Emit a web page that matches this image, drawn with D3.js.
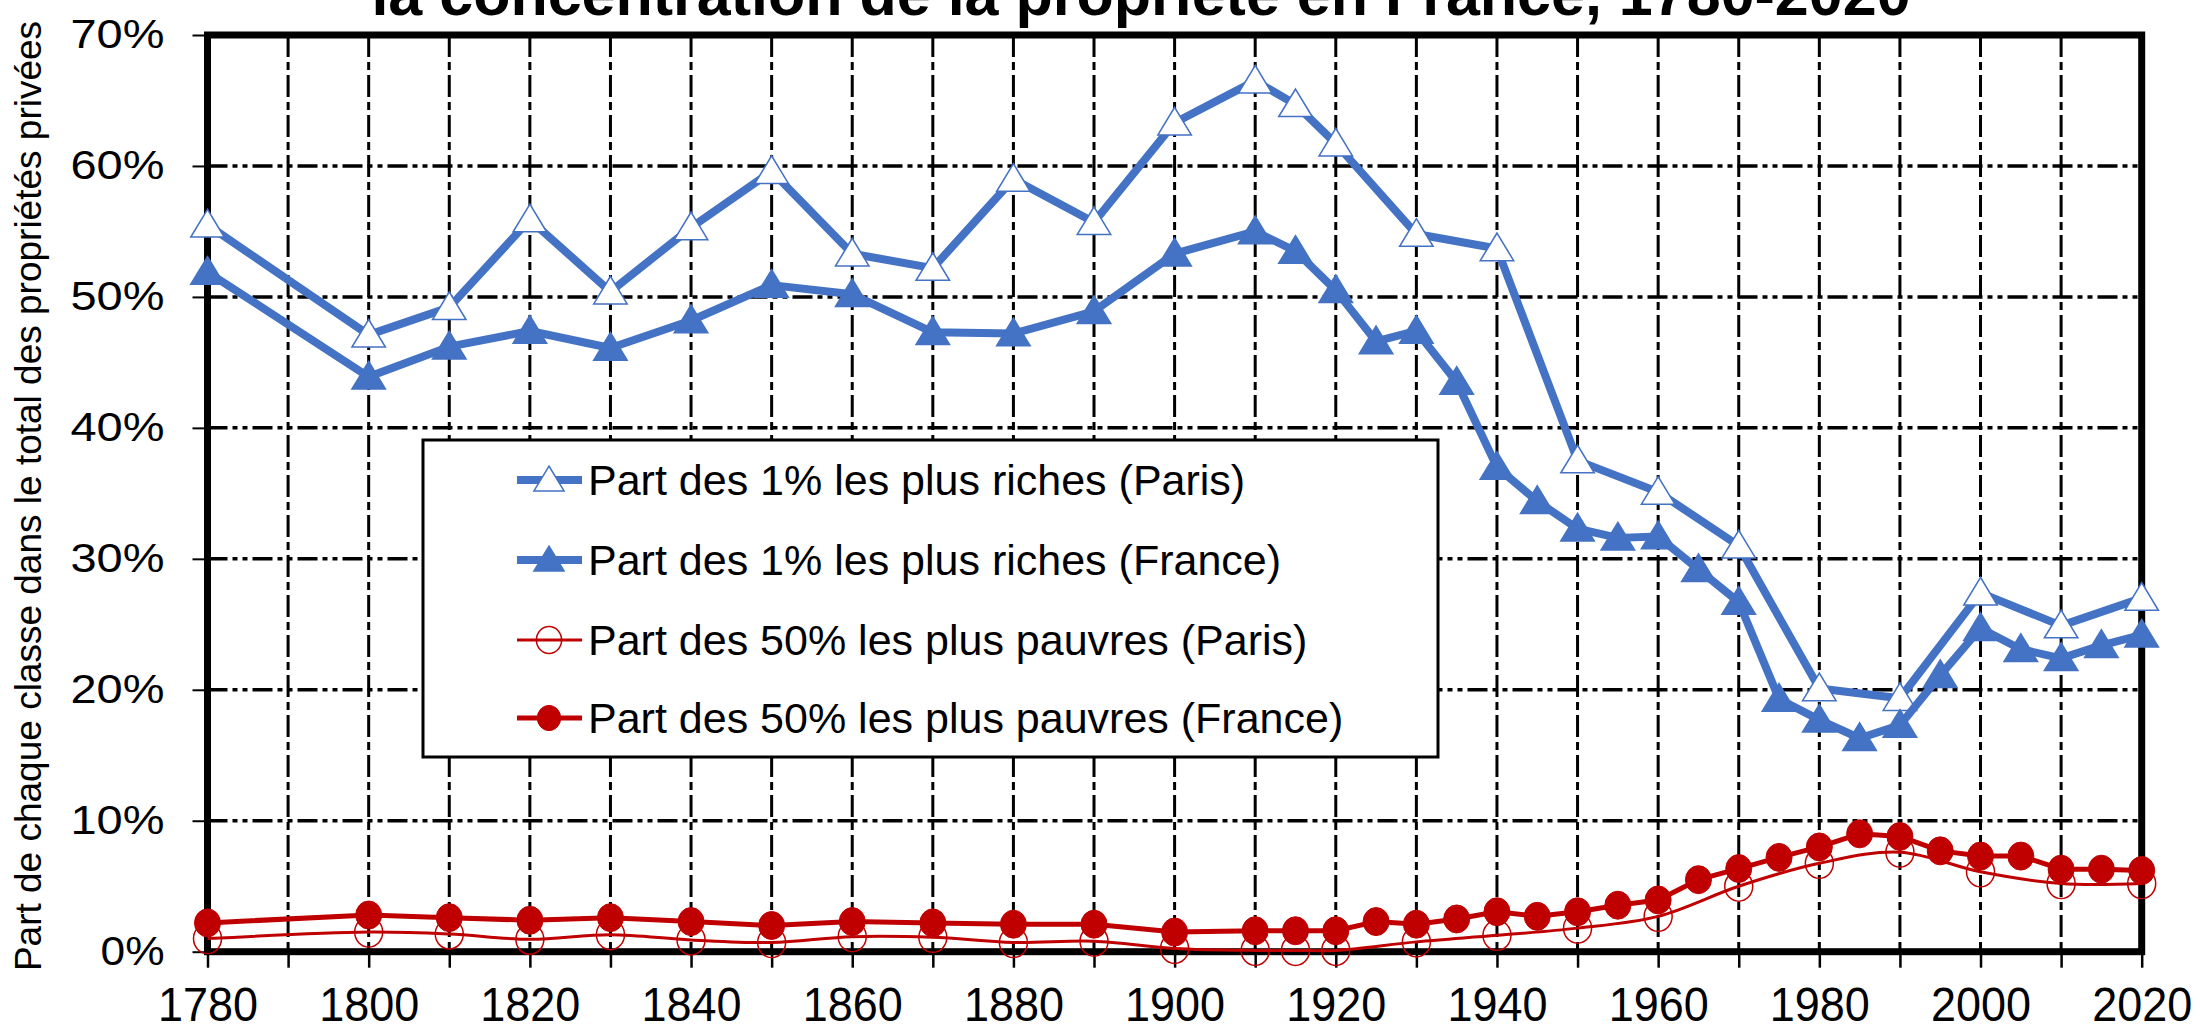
<!DOCTYPE html>
<html>
	<head>
		<meta charset="utf-8">
		<title>Concentration de la propriété</title>
		<script type="text/javascript" src="https://cdn.jsdelivr.net/npm/d3@7/dist/d3.min.js"></script>
		<style type="text/css">
			body{ margin: 0; background: #fff; }
			svg{ display: block; font-family: "Liberation Sans", Arial, sans-serif; }
			.axis path{ display: none; }
			.axis line{ stroke: #000; }
			.axis text{ fill: #000; }
		</style>
	</head>
	<body>
	<script type="text/javascript">
		const width = 2200, height = 1030;

		// years of observation
		let yearsParis = [1780,1800,1810,1820,1830,1840,1850,1860,1870,1880,1890,1900,1910,1915,1920,1930,1940,1950,1960,1970,1980,1990,2000,2010,2020];
		let yearsFrance = [1780,1800,1810,1820,1830,1840,1850,1860,1870,1880,1890,1900,1910,1915,1920,1925,1930,1935,1940,1945,1950,1955,1960,1965,1970,1975,1980,1985,1990,1995,2000,2005,2010,2015,2020];

		// shares in %
		let parisTop1 = [55.5,47.1,49.2,55.9,50.4,55.3,59.6,53.3,52.2,59.0,55.7,63.3,66.5,64.7,61.7,54.8,53.7,37.5,35.1,31.0,20.1,19.35,27.4,24.9,27.0];
		let franceTop1 = [51.9,43.9,46.2,47.4,46.1,48.2,50.9,50.2,47.3,47.2,48.9,53.3,55.0,53.5,50.5,46.6,47.4,43.5,37.0,34.4,32.3,31.6,31.7,29.2,26.7,19.3,17.7,16.3,17.3,21.1,24.7,23.1,22.4,23.4,24.2];
		let parisBottom50 = [1.0,1.5,1.35,0.95,1.3,0.9,0.7,1.15,1.1,0.7,0.8,0.25,0.1,0.1,0.1,0.75,1.25,1.8,2.7,5.0,6.75,7.6,6.1,5.2,5.2];
		let franceBottom50 = [2.2,2.8,2.6,2.4,2.6,2.3,2.0,2.3,2.2,2.1,2.1,1.5,1.6,1.6,1.6,2.3,2.1,2.5,3.05,2.7,3.05,3.55,3.95,5.5,6.35,7.2,8.0,9.0,8.8,7.7,7.3,7.3,6.3,6.3,6.2];

		let legendLabels = [
			"Part des 1% les plus riches (Paris)",
			"Part des 1% les plus riches (France)",
			"Part des 50% les plus pauvres (Paris)",
			"Part des 50% les plus pauvres (France)"
		];
		let yTicks = [0, 10, 20, 30, 40, 50, 60, 70];
		let xTicks = d3.range(1780, 2021, 10);

		const blue = "#4472C4", red = "#C00000";

		let series = [
			{name: legendLabels[0], years: yearsParis, values: parisTop1, color: blue, width: 8, marker: "triangle", filled: false, smooth: false},
			{name: legendLabels[1], years: yearsFrance, values: franceTop1, color: blue, width: 8, marker: "triangle", filled: true, smooth: false},
			{name: legendLabels[2], years: yearsParis, values: parisBottom50, color: red, width: 3, marker: "circle", filled: false, smooth: true},
			{name: legendLabels[3], years: yearsFrance, values: franceBottom50, color: red, width: 5, marker: "circle", filled: true, smooth: false}
		];

		let xScale = d3.scaleLinear()
					.domain([1780, 2020])
					.range([207.5, 2141.7]);

		let yScale = d3.scaleLinear()
					.domain([0, 70])
					.range([951.7, 35]);

		let svg = d3.select("body")
					.append("svg")
					.attr("width", width)
					.attr("height", height);

		// title (cut at the top in the original)
		svg.append("text")
			.attr("x", 1141)
			.attr("y", 15)
			.attr("text-anchor", "middle")
			.attr("font-size", "61px")
			.attr("font-weight", "bold")
			.text("la concentration de la propriété en France, 1780-2020");

		// grid
		svg.append("g")
			.selectAll("line")
			.data(yTicks.slice(1, -1))
			.enter()
			.append("line")
			.attr("x1", xScale(1780))
			.attr("x2", xScale(2020))
			.attr("y1", function(d){ return yScale(d); })
			.attr("y2", function(d){ return yScale(d); })
			.attr("stroke", "#000")
			.attr("stroke-width", 3.5)
			.attr("stroke-dasharray", "20,5,5,5,5,5");

		svg.append("g")
			.selectAll("line")
			.data(xTicks.slice(1, -1))
			.enter()
			.append("line")
			.attr("x1", function(d){ return xScale(d); })
			.attr("x2", function(d){ return xScale(d); })
			.attr("y1", yScale(70))
			.attr("y2", yScale(0))
			.attr("stroke", "#000")
			.attr("stroke-width", 3)
			.attr("stroke-dasharray", "22,5,8,5");

		// axes
		let xAxis = d3.axisBottom()
					.scale(xScale)
					.tickValues(xTicks)
					.tickSize(16)
					.tickPadding(19)
					.tickFormat(function(d){ return (d - 1780) % 20 === 0 ? d : ""; });

		let yAxis = d3.axisLeft()
					.scale(yScale)
					.tickValues(yTicks)
					.tickSize(15)
					.tickFormat(function(d){ return d + "%"; });

		svg.append("g")
			.attr("class", "axis")
			.attr("transform", "translate(0," + yScale(0) + ")")
			.call(xAxis)
			.call(function(g){
				g.selectAll("line").attr("stroke-width", 2.5);
				g.selectAll("text")
					.attr("font-size", "48px")
					.attr("textLength", function(){ return this.textContent ? 100 : null; })
					.attr("lengthAdjust", "spacingAndGlyphs");
			});

		svg.append("g")
			.attr("class", "axis")
			.attr("transform", "translate(" + xScale(1780) + ",0)")
			.call(yAxis)
			.call(function(g){
				g.selectAll("line").attr("stroke-width", 2);
				g.selectAll("text")
					.attr("x", -43)
					.attr("font-size", "40px")
					.attr("textLength", function(){ return this.textContent.length === 3 ? 94 : 64; })
					.attr("lengthAdjust", "spacingAndGlyphs");
			});

		// frame
		svg.append("rect")
			.attr("x", xScale(1780))
			.attr("y", yScale(70))
			.attr("width", xScale(2020) - xScale(1780))
			.attr("height", yScale(0) - yScale(70))
			.attr("fill", "none")
			.attr("stroke", "#000")
			.attr("stroke-width", 7);

		// y axis title
		svg.append("text")
			.attr("transform", "translate(41," + 496 + ") rotate(-90)")
			.attr("text-anchor", "middle")
			.attr("font-size", "37px")
			.text("Part de chaque classe dans le total des propriétés privées");

		// legend
		let legend = svg.append("g");
		legend.append("rect")
			.attr("x", 423)
			.attr("y", 440)
			.attr("width", 1015)
			.attr("height", 317)
			.attr("fill", "#fff")
			.attr("stroke", "#000")
			.attr("stroke-width", 3);

		let triangle = d3.symbol().type(d3.symbolTriangle).size(440);

		function drawMarker(g, s, cx, cy, k){
			k = k || 1;
			if(s.marker === "triangle"){
				g.append("path")
					.attr("d", triangle())
					.attr("transform", "translate(" + cx + "," + (cy + 3 * k) + ") scale(" + (1.05 * k) + "," + k + ")")
					.attr("fill", s.filled ? s.color : "#fff")
					.attr("stroke", s.color)
					.attr("stroke-width", 1.5 / k);
			} else {
				g.append("ellipse")
					.attr("cx", cx)
					.attr("cy", cy)
					.attr("rx", (s.filled ? 13 : 14) * k)
					.attr("ry", (s.filled ? 14 : 15) * k)
					.attr("fill", s.filled ? s.color : "none")
					.attr("stroke", s.color)
					.attr("stroke-width", s.filled ? 1 : 1.5);
			}
		}

		let rowY = [480, 560, 640, 718];
		series.forEach(function(s, i){
			legend.append("line")
				.attr("x1", 517)
				.attr("x2", 582)
				.attr("y1", rowY[i])
				.attr("y2", rowY[i])
				.attr("stroke", s.color)
				.attr("stroke-width", s.width);
			drawMarker(legend, s, 549, rowY[i], 0.9);
			legend.append("text")
				.attr("x", 588)
				.attr("y", rowY[i] + 15)
				.attr("font-size", "43px")
				.text(s.name);
		});

		// series
		series.forEach(function(s){
			let pts = s.years.map(function(yr, i){ return [yr, s.values[i]]; });
			let line = d3.line()
						.x(function(d){ return xScale(d[0]); })
						.y(function(d){ return yScale(d[1]); })
						.curve(s.smooth ? d3.curveCatmullRom : d3.curveLinear);

			let g = svg.append("g");
			g.append("path")
				.attr("d", line(pts))
				.attr("fill", "none")
				.attr("stroke", s.color)
				.attr("stroke-width", s.width)
				.attr("stroke-linejoin", "round");

			pts.forEach(function(d){
				drawMarker(g, s, xScale(d[0]), yScale(d[1]));
			});
		});
	</script>
	</body>
</html>
